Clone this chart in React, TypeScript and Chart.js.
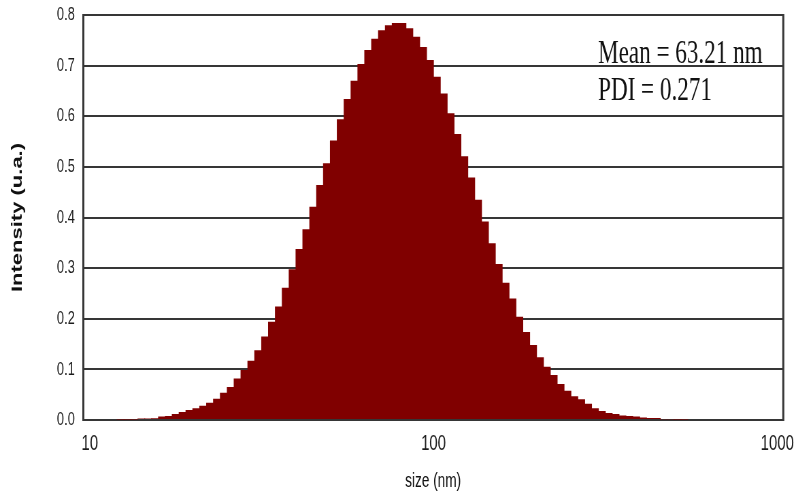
import { useEffect, useRef } from "react";
import { Chart, registerables } from "chart.js";

Chart.register(...registerables);

// Bin centres (nm) of the size distribution histogram
const sizes = [
  12.29, 12.87, 13.48, 14.12, 14.78, 15.48, 16.21, 16.97, 17.77, 18.61,
  19.48, 20.4, 21.36, 22.37, 23.43, 24.53, 25.69, 26.9, 28.16, 29.49,
  30.88, 32.34, 33.86, 35.46, 37.13, 38.88, 40.71, 42.63, 44.64, 46.74,
  48.94, 51.25, 53.67, 56.2, 58.85, 61.62, 64.52, 67.56, 70.75, 74.08,
  77.57, 81.23, 85.06, 89.07, 93.26, 97.66, 102.26, 107.08, 112.12, 117.4,
  122.94, 128.74, 134.8, 141.16, 147.81, 154.78, 162.07, 169.7, 177.71, 186.08,
  194.85, 204.03, 213.65, 223.71, 234.25, 245.3, 256.85, 268.96, 281.64, 294.9,
  308.82, 323.38, 338.61, 354.56, 371.27, 388.77, 407.09, 426.26, 446.36, 467.39,
  489.45, 512.51, 536.66,
];

// Intensity (u.a.) for each bin
const intensity = [
  0.001, 0.001, 0.001, 0.003, 0.003, 0.0035, 0.007, 0.008, 0.012, 0.016,
  0.02, 0.023, 0.028, 0.034, 0.042, 0.054, 0.065, 0.082, 0.099, 0.117,
  0.138, 0.165, 0.194, 0.224, 0.261, 0.298, 0.338, 0.377, 0.421, 0.464,
  0.507, 0.552, 0.594, 0.634, 0.67, 0.703, 0.731, 0.753, 0.77, 0.78,
  0.784, 0.784, 0.774, 0.757, 0.737, 0.711, 0.678, 0.645, 0.606, 0.565,
  0.521, 0.479, 0.435, 0.392, 0.349, 0.308, 0.271, 0.24, 0.204, 0.174,
  0.148, 0.124, 0.105, 0.089, 0.071, 0.058, 0.047, 0.041, 0.032, 0.023,
  0.018, 0.014, 0.012, 0.009, 0.008, 0.007, 0.005, 0.004, 0.004, 0.0015,
  0.0015, 0.001, 0.001,
];

const xTickValues = [10, 100, 1000];
const xMin = 9.555;
const xMax = 1041;
const yMin = 0;
const yMax = 0.8;
const yStep = 0.1;

const xTitle = "size (nm)";
const yTitle = "Intensity (u.a.)";
const annotationLines = ["Mean = 63.21 nm", "PDI = 0.271"];
const annotationX = 301; // nm
const annotationY = [0.706, 0.632]; // intensity of baselines

// The reference image is horizontally squeezed; render wide, display narrow.
const DISPLAY_W = 796;
const DISPLAY_H = 495;
const RENDER_W = 1170;

const LINE = "#363636";
const TEXT = "#1c1c1c";
const BAR = "#800000";

const framePlugin = {
  id: "frameAndNotes",
  afterDraw(chart: any) {
    const { ctx, chartArea, scales } = chart;
    ctx.save();
    ctx.strokeStyle = LINE;
    ctx.lineWidth = 3;
    ctx.beginPath();
    ctx.moveTo(chartArea.right, chartArea.top - 1);
    ctx.lineTo(chartArea.right, chartArea.bottom + 1);
    ctx.stroke();

    ctx.fillStyle = "#111";
    ctx.font = '34px "Liberation Serif", "Times New Roman", serif';
    ctx.textAlign = "left";
    ctx.textBaseline = "alphabetic";
    const x = scales.x.getPixelForValue(annotationX);
    annotationLines.forEach((t, i) => {
      ctx.fillText(t, x, scales.y.getPixelForValue(annotationY[i]));
    });
    ctx.restore();
  },
};

export default function App() {
  const ref = useRef<HTMLCanvasElement | null>(null);

  useEffect(() => {
    document.body.style.margin = "0";
    const canvas = ref.current;
    if (!canvas) return;
    const chart = new Chart(canvas, {
      type: "bar",
      data: {
        datasets: [
          {
            data: sizes.map((s, i) => ({ x: s, y: intensity[i] })),
            backgroundColor: BAR,
            borderWidth: 0,
            barPercentage: 1.12,
            categoryPercentage: 1,
          },
        ],
      },
      plugins: [framePlugin],
      options: {
        responsive: false,
        animation: false,
        events: [],
        layout: { padding: { top: 15, right: 18.7, bottom: 0, left: 0 } },
        plugins: {
          legend: { display: false },
          tooltip: { enabled: false },
        },
        scales: {
          x: {
            type: "logarithmic",
            min: xMin,
            max: xMax,
            offset: false,
            grid: { display: false, offset: false, drawTicks: false },
            border: { display: true, color: LINE, width: 2 },
            afterBuildTicks: (scale: any) => {
              scale.ticks = xTickValues.map((v) => ({ value: v }));
            },
            afterFit: (scale: any) => {
              scale.height = 75;
              scale.paddingLeft = 0;
              scale.paddingRight = 0;
            },
            ticks: {
              autoSkip: false,
              maxRotation: 0,
              padding: 11,
              color: TEXT,
              font: { family: '"Liberation Sans", Arial, sans-serif', size: 22 },
              callback: (v: any) => String(v),
            },
            title: {
              display: true,
              text: xTitle,
              color: "#111",
              padding: { top: 0, bottom: 2 },
              font: { family: '"Liberation Sans", Arial, sans-serif', size: 20 },
            },
          },
          y: {
            type: "linear",
            min: yMin,
            max: yMax,
            grid: { color: LINE, lineWidth: 2, drawTicks: false },
            border: { display: true, color: LINE, width: 3 },
            afterFit: (scale: any) => {
              scale.width = 122;
              scale.paddingTop = 0;
              scale.paddingBottom = 0;
            },
            ticks: {
              stepSize: yStep,
              padding: 12,
              color: TEXT,
              font: { family: '"Liberation Sans", Arial, sans-serif', size: 19 },
              callback: (v: any) => Number(v).toFixed(1),
            },
            title: {
              display: true,
              text: yTitle,
              color: "#111",
              padding: { top: 13, bottom: 0 },
              font: { family: '"Liberation Sans", Arial, sans-serif', size: 22, weight: "bold" },
            },
          },
        },
      },
    } as any);
    return () => chart.destroy();
  }, []);

  return (
    <div style={{ width: DISPLAY_W, height: DISPLAY_H, background: "#fff" }}>
      <canvas
        ref={ref}
        width={RENDER_W}
        height={DISPLAY_H}
        style={{ width: DISPLAY_W + "px", height: DISPLAY_H + "px", display: "block" }}
      />
    </div>
  );
}
